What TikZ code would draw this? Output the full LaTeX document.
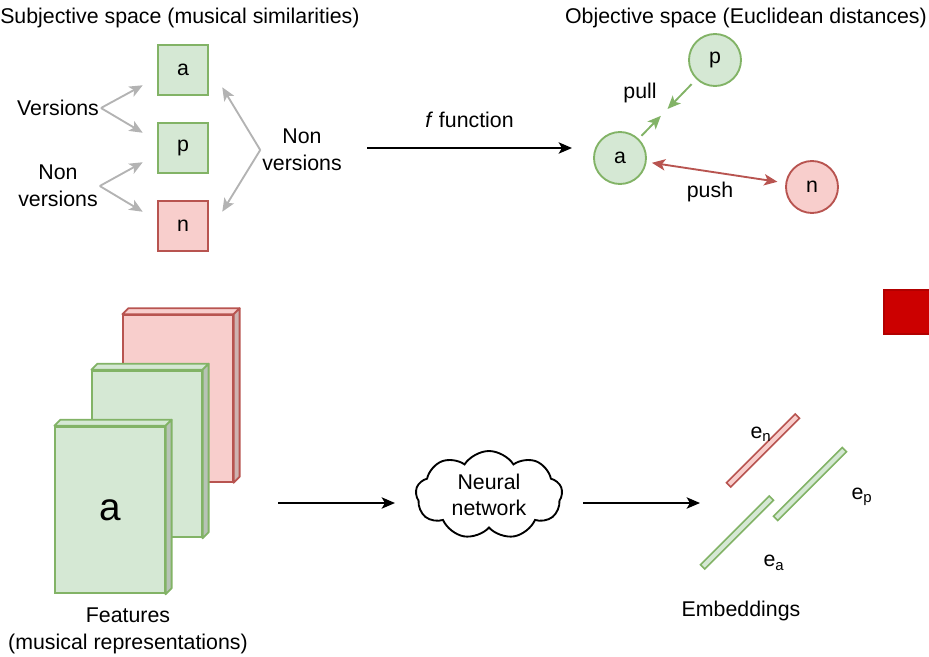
\documentclass[tikz,border=0pt]{standalone}
\usepackage{fontspec}
\setmainfont{Liberation Sans}
\usetikzlibrary{arrows.meta,shapes.symbols,calc}

\definecolor{greenfill}{HTML}{D5E8D4}
\definecolor{greenline}{HTML}{82B366}
\definecolor{redfill}{HTML}{F8CECC}
\definecolor{redline}{HTML}{B85450}
\definecolor{grayline}{HTML}{B3B3B3}
\definecolor{alertfill}{HTML}{CC0000}
\definecolor{alertline}{HTML}{B20000}

\tikzset{
	tip/.style={-{Stealth[length=10pt,width=8.5pt,inset=2.5pt]}},
	greensq/.style={draw=greenline, fill=greenfill, line width=1.4pt, minimum size=38pt, inner sep=0pt},
	redsq/.style={draw=redline, fill=redfill, line width=1.4pt, minimum size=38pt, inner sep=0pt},
	greencirc/.style={circle, draw=greenline, fill=greenfill, line width=1.4pt, minimum size=39pt, inner sep=0pt},
	redcirc/.style={circle, draw=redline, fill=redfill, line width=1.4pt, minimum size=39pt, inner sep=0pt},
	grayarrow/.style={draw=grayline, line width=1.4pt, tip},
	blackarrow/.style={draw=black, line width=1.4pt, tip},
	greenface/.style={draw=greenline, fill=greenfill, line width=1.4pt, minimum width=82pt, minimum height=125pt, inner sep=0pt},
	redface/.style={draw=redline, fill=redfill, line width=1.4pt, minimum width=82pt, minimum height=125pt, inner sep=0pt},
	greenrod/.style={draw=greenline, fill=greenfill, line width=1.2pt, minimum width=73pt, minimum height=4.5pt, inner sep=0pt, rotate=45},
	redrod/.style={draw=redline, fill=redfill, line width=1.2pt, minimum width=73pt, minimum height=4.5pt, inner sep=0pt, rotate=45},
	twoline/.style={align=center}
}

\begin{document}
\begin{tikzpicture}[x=0.75pt, y=-0.75pt, font=\fontsize{16}{20}\selectfont]
	\useasboundingbox (0,0) rectangle (929,657);

	% subjective space
	\node[anchor=west, inner sep=0pt] (subj) at (0,18) {Subjective space (musical similarities)};
	\node[greensq] (sqa) at (183,70) {a};
	\node[greensq] (sqp) at (183,148) {p};
	\node[redsq] (sqn) at (183,226) {n};
	\node (vers) at (58,108) {Versions};
	\node[twoline] (nonl) at (58,186) {Non\\versions};
	\node[twoline] (nonr) at (302,150) {Non\\versions};
	\draw[grayarrow] ([xshift=-2pt]vers.east) -- ($(sqa.south west)+(-14,-11)$);
	\draw[grayarrow] ([xshift=-2pt]vers.east) -- ($(sqp.north west)+(-14,11)$);
	\draw[grayarrow] ([xshift=-2pt]nonl.east) -- ($(sqp.south west)+(-14,-12)$);
	\draw[grayarrow] ([xshift=-2pt]nonl.east) -- ($(sqn.north west)+(-14,12)$);
	\draw[grayarrow] ([xshift=2pt]nonr.west) -- ($(sqa.south east)+(13,-9)$);
	\draw[grayarrow] ([xshift=2pt]nonr.west) -- ($(sqn.north east)+(13,12)$);

	% f function
	\coordinate (fin) at (367,148);
	\coordinate (fout) at (572,148);
	\draw[blackarrow] (fin) -- node[above=11pt] {\textit{f} function} (fout);

	% objective space
	\node[anchor=east, inner sep=0pt] (obj) at (927,18) {Objective space (Euclidean distances)};
	\node[greencirc] (ca) at (620,158) {a};
	\node[greencirc] (cp) at (715,60) {p};
	\node[redcirc] (cn) at (812,187) {n};
	\draw[draw=greenline, line width=1.4pt, tip, shorten <=3pt]
		(ca) -- ($(ca)!0.43!(cp)$);
	\draw[draw=greenline, line width=1.4pt, tip, shorten <=5pt]
		(cp) -- ($(cp)!0.5!(ca)$);
	\node (pull) at (640,93) {pull};
	\draw[draw=redline, line width=1.4pt, {Stealth[length=10pt,width=8.5pt,inset=2.5pt]}-{Stealth[length=10pt,width=8.5pt,inset=2.5pt]}, shorten <=4pt, shorten >=6pt]
		(ca) -- (cn);
	\node (push) at (710,192) {push};

	% features
	\node[redface] (fn) at (178,398.5) {};
	\draw[draw=redline, fill=redfill, line width=1.4pt, line join=round]
		(fn.north west) -- ([shift={(6,-6)}]fn.north west) -- ([shift={(6,-6)}]fn.north east) -- (fn.north east) -- cycle;
	\draw[draw=redline, fill=redfill!65!gray, line width=1.4pt, line join=round]
		(fn.north east) -- ([shift={(6,-6)}]fn.north east) -- ([shift={(6,-6)}]fn.south east) -- (fn.south east) -- cycle;
	\node[greenface] (fp) at (147,454) {};
	\draw[draw=greenline, fill=greenfill, line width=1.4pt, line join=round]
		(fp.north west) -- ([shift={(6,-6)}]fp.north west) -- ([shift={(6,-6)}]fp.north east) -- (fp.north east) -- cycle;
	\draw[draw=greenline, fill=greenfill!65!gray, line width=1.4pt, line join=round]
		(fp.north east) -- ([shift={(6,-6)}]fp.north east) -- ([shift={(6,-6)}]fp.south east) -- (fp.south east) -- cycle;
	\node[greenface, font=\fontsize{29}{34}\selectfont] (fa) at (110,510) {a};
	\draw[draw=greenline, fill=greenfill, line width=1.4pt, line join=round]
		(fa.north west) -- ([shift={(6,-6)}]fa.north west) -- ([shift={(6,-6)}]fa.north east) -- (fa.north east) -- cycle;
	\draw[draw=greenline, fill=greenfill!65!gray, line width=1.4pt, line join=round]
		(fa.north east) -- ([shift={(6,-6)}]fa.north east) -- ([shift={(6,-6)}]fa.south east) -- (fa.south east) -- cycle;
	\node[twoline] (feat) at (128,631) {Features\\(musical representations)};

	% network
	\node[cloud, draw, line width=1.4pt, cloud puffs=9, cloud puff arc=115, aspect=1.8,
		minimum width=110pt, minimum height=66pt, inner sep=0pt, twoline] (net) at (489,495) {Neural\\network};
	\coordinate (netin) at (278,503);
	\coordinate (netout) at (583,503);
	\draw[blackarrow] (netin) -- (395,503);
	\draw[blackarrow] (netout) -- (700,503);

	% embeddings
	\node[redrod] (en) at (763,450.5) {};
	\node[greenrod] (ea) at (737,532.5) {};
	\node[greenrod] (ep) at (810,484) {};
	\node (enl) at (761,434) {e\textsubscript{n}};
	\node (epl) at (862,497) {e\textsubscript{p}};
	\node (eal) at (774,563) {e\textsubscript{a}};
	\node (emb) at (741,611) {Embeddings};

	% marker
	\node[draw=alertline, fill=alertfill, line width=1.4pt, minimum width=37pt, minimum height=33pt, anchor=north west] (alert) at (883,289) {};
\end{tikzpicture}
\end{document}
